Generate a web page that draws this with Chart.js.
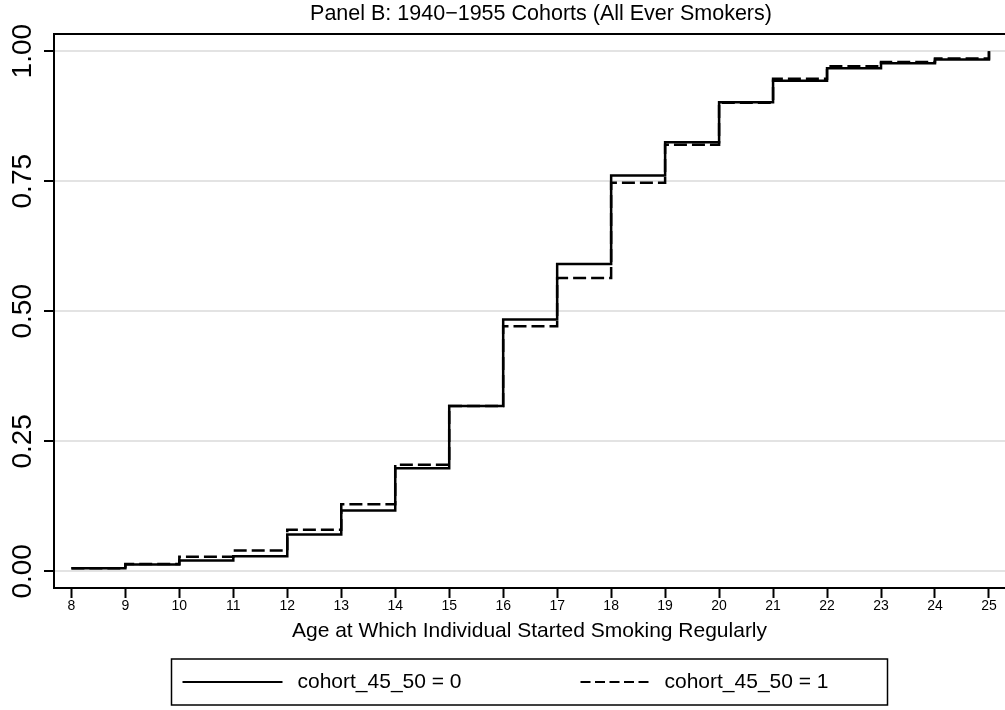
<!DOCTYPE html>
<html>
<head>
<meta charset="utf-8">
<title>Panel B</title>
<script src="https://cdn.jsdelivr.net/npm/chart.js@4.4.1/dist/chart.umd.min.js"></script>
<style>
  html, body { margin: 0; padding: 0; background: #fff; }
  #wrap { width: 1005px; height: 710px; }
</style>
</head>
<body>
<div id="wrap"><canvas id="grafico" width="1005" height="710"></canvas></div>
<script>
// idade em que começou a fumar (eixo x)
const idades = [8, 9, 10, 11, 12, 13, 14, 15, 16, 17, 18, 19, 20, 21, 22, 23, 24, 25];

// distribuição acumulada por coorte
const coorte0 = [0.006, 0.013, 0.021, 0.029, 0.071, 0.117, 0.198, 0.318, 0.484, 0.591,
                 0.761, 0.825, 0.902, 0.943, 0.967, 0.977, 0.984, 1.0];
const coorte1 = [0.006, 0.014, 0.028, 0.040, 0.080, 0.129, 0.205, 0.318, 0.471, 0.564,
                 0.747, 0.820, 0.901, 0.947, 0.971, 0.979, 0.986, 1.0];

const ticksY = [0, 0.25, 0.5, 0.75, 1];
const nomesSeries = ['cohort_45_50 = 0', 'cohort_45_50 = 1'];
const titulo = 'Panel B: 1940\u22121955 Cohorts (All Ever Smokers)';
const tituloX = 'Age at Which Individual Started Smoking Regularly';

const fonte = "'Liberation Sans', Arial, Helvetica, sans-serif";
Chart.defaults.font.family = fonte;
Chart.defaults.color = '#000';

function pontos(valores) {
  return idades.map((idade, i) => ({ x: idade, y: valores[i] }));
}

// título, moldura de cima e legenda com caixa
const extras = {
  id: 'extras',
  afterDraw(chart) {
    const ctx = chart.ctx;
    const area = chart.chartArea;
    ctx.save();

    ctx.strokeStyle = '#000';
    ctx.lineWidth = 2;
    ctx.beginPath();
    ctx.moveTo(area.left, area.top);
    ctx.lineTo(area.right, area.top);
    ctx.stroke();

    ctx.fillStyle = '#000';
    ctx.font = '21.5px ' + fonte;
    ctx.textAlign = 'center';
    ctx.textBaseline = 'middle';
    ctx.fillText(titulo, 541, 14);

    // legenda
    const centro = (area.left + area.right) / 2;
    const larg = 716, alt = 46;
    const x0 = centro - larg / 2;
    const y0 = 659;
    const ym = y0 + alt / 2;
    ctx.lineWidth = 1.5;
    ctx.strokeRect(x0, y0, larg, alt);

    ctx.font = '21px ' + fonte;
    ctx.textAlign = 'left';
    ctx.lineWidth = 2;

    ctx.beginPath();
    ctx.moveTo(x0 + 11, ym);
    ctx.lineTo(x0 + 111, ym);
    ctx.stroke();
    ctx.fillText(nomesSeries[0], x0 + 126, ym);

    ctx.setLineDash([10, 4.5]);
    ctx.beginPath();
    ctx.moveTo(x0 + 409, ym);
    ctx.lineTo(x0 + 478, ym);
    ctx.stroke();
    ctx.setLineDash([]);
    ctx.fillText(nomesSeries[1], x0 + 493, ym);

    ctx.restore();
  }
};

new Chart(document.getElementById('grafico'), {
  type: 'line',
  data: {
    datasets: [
      {
        label: nomesSeries[0],
        data: pontos(coorte0),
        stepped: 'before',
        borderColor: '#000',
        borderWidth: 2.5,
        pointRadius: 0,
        fill: false
      },
      {
        label: nomesSeries[1],
        data: pontos(coorte1),
        stepped: 'before',
        borderColor: '#000',
        borderWidth: 2.5,
        borderDash: [13, 5],
        pointRadius: 0,
        fill: false
      }
    ]
  },
  options: {
    responsive: false,
    animation: false,
    devicePixelRatio: 1,
    layout: { padding: { top: 34, right: 0, bottom: 67, left: 0 } },
    plugins: {
      legend: { display: false },
      title: { display: false },
      tooltip: { enabled: false }
    },
    scales: {
      x: {
        type: 'linear',
        min: 7.678,
        max: 25.297,
        afterBuildTicks: s => { s.ticks = idades.map(v => ({ value: v })); },
        afterFit: s => { s.height = 55; },
        ticks: { font: { size: 14 }, color: '#000', padding: 0, maxRotation: 0, autoSkip: false },
        grid: { drawOnChartArea: false, tickColor: '#000', tickWidth: 2, tickLength: 10 },
        border: { color: '#000', width: 2 },
        title: {
          display: true,
          text: tituloX,
          font: { size: 21 },
          color: '#000',
          padding: { top: 0, bottom: -1 }
        }
      },
      y: {
        min: -0.032,
        max: 1.033,
        afterBuildTicks: s => { s.ticks = ticksY.map(v => ({ value: v })); },
        afterFit: s => { s.width = 54; },
        ticks: {
          font: { size: 28 },
          color: '#000',
          minRotation: 90,
          maxRotation: 90,
          crossAlign: 'center',
          padding: -7,
          callback: v => v.toFixed(2)
        },
        grid: { color: '#e3e3e3', lineWidth: 2, tickColor: '#000', tickWidth: 2, tickLength: 10 },
        border: { color: '#000', width: 2 }
      }
    }
  },
  plugins: [extras]
});
</script>
</body>
</html>
